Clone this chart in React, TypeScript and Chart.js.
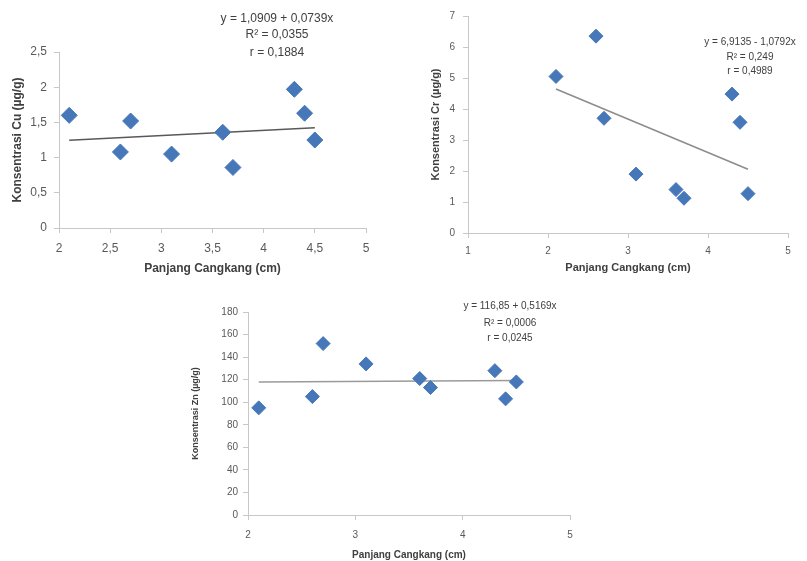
import React, { useEffect, useRef } from "react";
import { Chart, registerables } from "chart.js";

Chart.register(...registerables);

// Shell length (cm) – same for every chart
const lengthCm = [2.1, 2.6, 2.7, 3.1, 3.6, 3.7, 4.3, 4.4, 4.5];

// Concentrations (µg/g)
const cuValues = [1.6, 1.08, 1.52, 1.05, 1.36, 0.86, 1.97, 1.63, 1.25];
const crValues = [5.05, 6.35, 3.7, 1.9, 1.4, 1.12, 4.48, 3.57, 1.27];
const znValues = [95, 105, 152, 134, 121, 113, 128, 103, 118];

// Trend line end points (x, y)
const cuTrendX = [2.1, 4.5];
const cuTrendY = [1.246, 1.423];
const crTrendX = [2.1, 4.5];
const crTrendY = [4.647, 2.057];
const znTrendX = [2.1, 4.5];
const znTrendY = [117.9, 119.2];

// Equation labels
const cuEquation = ["y = 1,0909 + 0,0739x", "R² = 0,0355", "r =  0,1884"];
const crEquation = ["y = 6,9135 - 1,0792x", "R² = 0,249", "r = 0,4989"];
const znEquation = ["y = 116,85 + 0,5169x", "R² = 0,0006", "r = 0,0245"];

const xTitle = "Panjang Cangkang (cm)";

const FONT = "'Liberation Sans', Arial, sans-serif";
const MARKER = "#4677B8";
const AXIS = "#c8c8c8";

type Cfg = {
  left: number; top: number; width: number; height: number;
  values: number[]; trendX: number[]; trendY: number[];
  xMin: number; xMax: number; xStep: number;
  yMin: number; yMax: number; yStep: number;
  yTitle: string;
  yAxisW: number; xAxisH: number; padTop: number; padRight: number;
  tickFont: number; yTitleFont: number; xTitleFont: number;
  yTitlePad: number; xTitlePad: number; yTickPad: number; xTickPad: number;
  radius: number; trendColor: string;
};

function Scatter(c: Cfg) {
  const ref = useRef<HTMLCanvasElement>(null);
  useEffect(() => {
    if (!ref.current) return;
    const fmt = (v: any) => String(Math.round(Number(v) * 100) / 100).replace(".", ",");
    const chart = new Chart(ref.current, {
      type: "scatter",
      data: {
        datasets: [
          {
            data: lengthCm.map((x, i) => ({ x, y: c.values[i] })),
            pointStyle: "rectRot",
            pointRadius: c.radius,
            backgroundColor: MARKER,
            borderColor: MARKER,
            order: 0,
          },
          {
            data: c.trendX.map((x, i) => ({ x, y: c.trendY[i] })),
            showLine: true,
            pointRadius: 0,
            borderColor: c.trendColor,
            borderWidth: 1.5,
            order: 1,
          } as any,
        ],
      },
      options: {
        animation: false,
        responsive: false,
        layout: { padding: { top: c.padTop, right: c.padRight, left: 0, bottom: 0 } },
        plugins: { legend: { display: false }, tooltip: { enabled: false } },
        scales: {
          x: {
            type: "linear",
            min: c.xMin, max: c.xMax,
            afterFit: (s: any) => { s.height = c.xAxisH; },
            ticks: { stepSize: c.xStep, callback: fmt, color: "#595959", font: { family: FONT, size: c.tickFont }, padding: c.xTickPad, maxRotation: 0 },
            grid: { display: true, drawOnChartArea: false, drawTicks: true, tickLength: 5, color: AXIS },
            border: { display: true, color: AXIS },
            title: { display: true, text: xTitle, color: "#404040", font: { family: FONT, size: c.xTitleFont, weight: "bold" }, padding: { top: 0, bottom: c.xTitlePad } },
          },
          y: {
            type: "linear",
            min: c.yMin, max: c.yMax,
            afterFit: (s: any) => { s.width = c.yAxisW; },
            ticks: { stepSize: c.yStep, callback: fmt, color: "#595959", font: { family: FONT, size: c.tickFont }, padding: c.yTickPad },
            grid: { display: true, drawOnChartArea: false, drawTicks: true, tickLength: 5, color: AXIS },
            border: { display: true, color: AXIS },
            title: { display: true, text: c.yTitle, color: "#404040", font: { family: FONT, size: c.yTitleFont, weight: "bold" }, padding: { top: c.yTitlePad, bottom: 0 } },
          },
        },
      } as any,
    });
    return () => chart.destroy();
  }, []);
  return (
    <canvas
      ref={ref}
      width={c.width}
      height={c.height}
      style={{ position: "absolute", left: c.left, top: c.top, width: c.width, height: c.height }}
    />
  );
}

function Eq({ lines, cx, ys, size }: { lines: string[]; cx: number; ys: number[]; size: number }) {
  return (
    <>
      {lines.map((t, i) => (
        <div
          key={i}
          style={{
            position: "absolute", left: cx - 100, width: 200, top: ys[i] - size * 0.6,
            textAlign: "center", fontFamily: FONT, fontSize: size, color: "#404040",
            lineHeight: `${size * 1.2}px`, whiteSpace: "nowrap",
          }}
        >
          {t}
        </div>
      ))}
    </>
  );
}

export default function App() {
  return (
    <div style={{ position: "absolute", left: 0, top: 0, width: 807, height: 561, background: "#fff", overflow: "hidden" }}>
      <Scatter
        left={0} top={0} width={400} height={280}
        values={cuValues} trendX={cuTrendX} trendY={cuTrendY}
        xMin={2} xMax={5} xStep={0.5} yMin={0} yMax={2.5} yStep={0.5}
        yTitle="Konsentrasi Cu (µg/g)"
        yAxisW={59} xAxisH={52} padTop={52} padRight={34}
        tickFont={12} yTitleFont={12} xTitleFont={12}
        yTitlePad={10} xTitlePad={4} yTickPad={7} xTickPad={8}
        radius={8} trendColor="#595959"
      />
      <Scatter
        left={400} top={0} width={407} height={280}
        values={crValues} trendX={crTrendX} trendY={crTrendY}
        xMin={1} xMax={5} xStep={1} yMin={0} yMax={7} yStep={1}
        yTitle="Konsentrasi Cr (µg/g)"
        yAxisW={68} xAxisH={47} padTop={16} padRight={19}
        tickFont={10} yTitleFont={11} xTitleFont={11}
        yTitlePad={29} xTitlePad={5} yTickPad={8} xTickPad={7}
        radius={7} trendColor="#8c8c8c"
      />
      <Scatter
        left={180} top={280} width={420} height={281}
        values={znValues} trendX={znTrendX} trendY={znTrendY}
        xMin={2} xMax={5} xStep={1} yMin={0} yMax={180} yStep={20}
        yTitle="Konsentrasi Zn (µg/g)"
        yAxisW={68} xAxisH={46} padTop={32} padRight={30}
        tickFont={10} yTitleFont={9} xTitleFont={10}
        yTitlePad={10} xTitlePad={0} yTickPad={5} xTickPad={9}
        radius={7} trendColor="#9a9a9a"
      />
      <Eq lines={cuEquation} cx={277} ys={[18, 34, 52]} size={12} />
      <Eq lines={crEquation} cx={750} ys={[42, 57, 71]} size={10} />
      <Eq lines={znEquation} cx={510} ys={[306, 323, 338]} size={10} />
    </div>
  );
}
